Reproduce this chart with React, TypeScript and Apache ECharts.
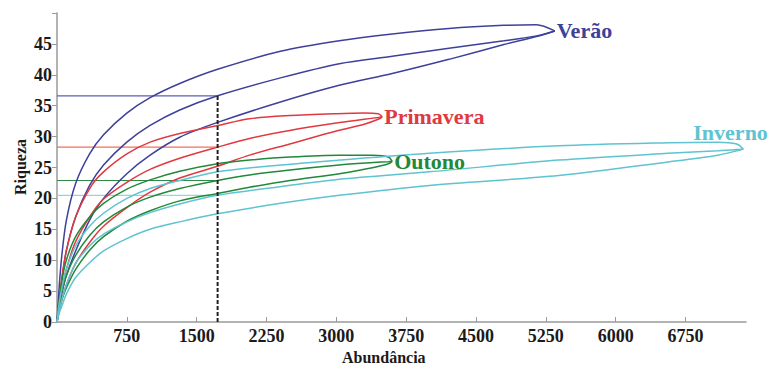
import React, { useEffect, useRef } from "react";
import * as echarts from "echarts";

// x samples (Abundância) per season
const veraoX = [0, 25, 50, 100, 200, 350, 500, 750, 1000, 1318, 1725, 2400, 3032, 3600, 4210, 4800, 5150, 5346];
const veraoUpper = [0, 6, 10.5, 16.4, 22.4, 27.2, 30.3, 33.8, 36.3, 38.6, 40.9, 43.8, 45.5, 46.6, 47.5, 48.0, 48.1, 47.1];
const veraoMean = [0, 3.5, 6.5, 11.5, 17.0, 22.1, 25.4, 29.1, 31.8, 34.3, 36.6, 39.5, 41.8, 43.0, 44.3, 45.5, 46.3, 47.1];
const veraoLower = [0, 2.5, 4.5, 7.5, 11.5, 16.5, 20.0, 24.0, 27.0, 29.9, 32.3, 35.6, 38.3, 40.2, 42.5, 44.9, 46.2, 47.1];

const primaveraX = [0, 25, 50, 100, 200, 372, 500, 750, 1000, 1318, 1725, 2068, 2500, 3000, 3300, 3450, 3493];
const primaveraUpper = [0, 3.5, 7, 11.5, 17, 22.1, 24.3, 27.2, 29.1, 30.5, 31.8, 32.9, 33.4, 33.7, 33.8, 33.7, 33.2];
const primaveraMean = [0, 2.5, 5, 8.5, 13, 17.5, 19.9, 22.6, 24.7, 26.5, 28.3, 29.7, 31.0, 32.2, 32.8, 33.1, 33.2];
const primaveraLower = [0, 1.8, 3.5, 6, 9.5, 13.3, 15.5, 18.5, 21, 23.3, 25.2, 27.0, 28.8, 30.9, 32.0, 32.8, 33.2];

const outonoX = [0, 25, 50, 100, 200, 350, 500, 750, 1000, 1318, 1725, 2068, 2500, 3032, 3400, 3560, 3600];
const outonoUpper = [0, 3.5, 6.5, 10, 13.8, 17, 19.2, 21.5, 23.0, 24.4, 25.6, 26.2, 26.7, 27.0, 27.0, 26.7, 26.0];
const outonoMean = [0, 2.8, 4.8, 7.5, 10.8, 14.0, 16.2, 18.6, 20.2, 21.6, 22.9, 23.8, 24.6, 25.4, 25.8, 25.95, 26.0];
const outonoLower = [0, 2, 3.5, 5.5, 8.5, 11.6, 13.8, 16.3, 18.0, 19.6, 20.8, 21.8, 22.9, 24.0, 25.0, 25.6, 26.0];

const invernoX = [0, 25, 50, 100, 200, 350, 500, 750, 1000, 1318, 1725, 2400, 3032, 4000, 5389, 6563, 7100, 7300, 7371];
const invernoUpper = [0, 3.2, 5.3, 8.5, 12.3, 15.5, 17.6, 20.0, 21.6, 22.9, 24.3, 25.4, 26.2, 27.3, 28.5, 29.0, 29.1, 28.8, 28.0];
const invernoMean = [0, 2, 3.5, 6, 9.5, 12.3, 14.2, 16.2, 17.7, 19.1, 20.5, 21.9, 23.1, 24.3, 26.2, 27.3, 27.7, 27.9, 28.0];
const invernoLower = [0, 1.5, 2.5, 4.5, 7.2, 9.6, 11.5, 13.5, 15.0, 16.2, 17.5, 19.2, 20.5, 22.1, 23.7, 25.9, 27.0, 27.7, 28.0];

// rarefied richness at the reference abundance
const refAbundance = 1725;
const seasonNames = ["Verão", "Primavera", "Outono", "Inverno"];
const refRichness = [36.6, 28.3, 22.9, 20.5];

const xTicks = [750, 1500, 2250, 3000, 3750, 4500, 5250, 6000, 6750];

const COLORS = ["#3d4199", "#e0393f", "#22883a", "#5fc3d0"];
const REF_COLORS = ["#5a5fb0", "#f0705a", "#2e8b45", "#8fd6df"];

const FONT = "'Liberation Serif', 'Times New Roman', serif";

function zip(xs: number[], ys: number[]) {
  return xs.map((x, i) => [x, ys[i]]);
}

export default function App() {
  const ref = useRef<HTMLDivElement>(null);
  useEffect(() => {
    if (!ref.current) return;
    const chart = echarts.init(ref.current, undefined, { renderer: "svg" });
    const groups = [
      [veraoX, veraoUpper, veraoMean, veraoLower],
      [primaveraX, primaveraUpper, primaveraMean, primaveraLower],
      [outonoX, outonoUpper, outonoMean, outonoLower],
      [invernoX, invernoUpper, invernoMean, invernoLower],
    ];
    const labelOffsets: number[][] = [[0, 0], [0, 0], [0, 0], [-52, -16]];
    const series: any[] = [];
    groups.forEach((g, gi) => {
      const [xs, up, mean, low] = g;
      [up, low, mean].forEach((ys, k) => {
        const isMean = k === 2;
        series.push({
          type: "line",
          name: seasonNames[gi] + (isMean ? "" : k === 0 ? " sup" : " inf"),
          data: zip(xs, ys),
          smooth: 0.3,
          showSymbol: false,
          symbol: "none",
          lineStyle: { color: COLORS[gi], width: 1.5 },
          z: 3,
          endLabel: isMean
            ? {
                show: true,
                formatter: seasonNames[gi],
                color: COLORS[gi],
                fontFamily: FONT,
                fontWeight: "bold",
                fontSize: 22,
                offset: labelOffsets[gi],
                distance: 2,
              }
            : { show: false },
        });
      });
      series.push({
        type: "line",
        name: seasonNames[gi] + " ref",
        data: [
          [0, refRichness[gi]],
          [refAbundance, refRichness[gi]],
        ],
        showSymbol: false,
        symbol: "none",
        lineStyle: { color: REF_COLORS[gi], width: 1.2 },
        z: 2,
      });
    });
    series.push({
      type: "line",
      name: "dashed",
      data: [
        [refAbundance, 0],
        [refAbundance, refRichness[0]],
      ],
      showSymbol: false,
      symbol: "none",
      lineStyle: { color: "#222", width: 2, type: [4, 2] },
      z: 4,
    });

    chart.setOption({
      animation: false,
      backgroundColor: "#ffffff",
      grid: { left: 57, top: 13, right: 27, bottom: 43, containLabel: false },
      xAxis: {
        type: "value",
        min: 0,
        max: 7400,
        interval: 750,
        axisLine: { lineStyle: { color: "#9a9a9a", width: 1.5 } },
        axisTick: { show: true, inside: true, length: 5, lineStyle: { color: "#9a9a9a" } },
        splitLine: { show: false },
        axisLabel: {
          margin: 5,
          color: "#1a1a1a",
          fontFamily: FONT,
          fontWeight: "bold",
          fontSize: 18,
          showMaxLabel: false,
          formatter: (v: number) => (xTicks.indexOf(v) >= 0 ? String(v) : ""),
        },
      },
      yAxis: {
        type: "value",
        min: 0,
        max: 50,
        interval: 5,
        axisLine: { show: true, lineStyle: { color: "#9a9a9a", width: 1.5 } },
        axisTick: { show: true, inside: false, length: 5, lineStyle: { color: "#9a9a9a" } },
        splitLine: { show: false },
        axisLabel: {
          margin: 5,
          color: "#1a1a1a",
          fontFamily: FONT,
          fontWeight: "bold",
          fontSize: 18,
          formatter: (v: number) => (v >= 50 ? "" : String(v)),
        },
      },
      graphic: [
        {
          type: "text",
          left: 342,
          top: 349,
          style: {
            text: "Abundância",
            fill: "#1a1a1a",
            font: `bold 16px ${FONT}`,
          },
        },
        {
          type: "text",
          x: 12,
          y: 195,
          rotation: Math.PI / 2,
          style: {
            text: "Riqueza",
            fill: "#1a1a1a",
            font: `bold 16px ${FONT}`,
          },
        },
      ],
      series,
    });
    return () => chart.dispose();
  }, []);
  return <div ref={ref} style={{ width: 773, height: 365, position: "absolute", left: 0, top: 0 }} />;
}
